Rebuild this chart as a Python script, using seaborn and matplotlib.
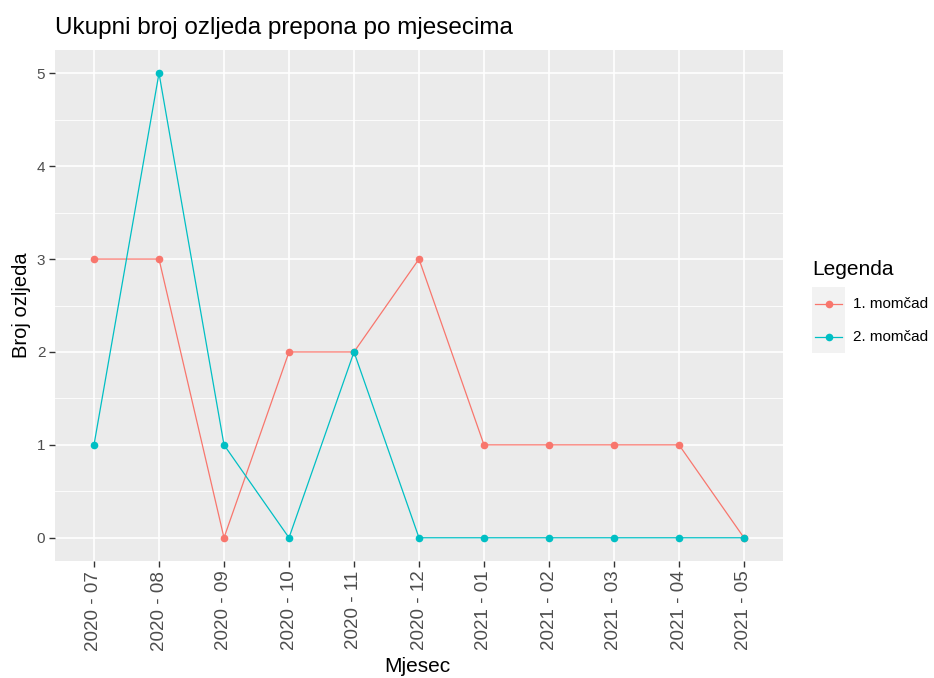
import pandas as pd
import matplotlib
matplotlib.use("Agg")
import matplotlib.pyplot as plt
from matplotlib.lines import Line2D
from matplotlib.patches import Rectangle
import seaborn as sns

# Data
months = ["2020 - 07", "2020 - 08", "2020 - 09", "2020 - 10", "2020 - 11", "2020 - 12",
          "2021 - 01", "2021 - 02", "2021 - 03", "2021 - 04", "2021 - 05"]
team1 = [3, 3, 0, 2, 2, 3, 1, 1, 1, 1, 0]
team2 = [1, 5, 1, 0, 2, 0, 0, 0, 0, 0, 0]
teams = ["1. momčad", "2. momčad"]
colors = ["#F8766D", "#00BFC4"]

df = pd.DataFrame({
    "Mjesec": months * 2,
    "Broj": team1 + team2,
    "Legenda": [teams[0]] * len(months) + [teams[1]] * len(months),
})
df["pos"] = list(range(len(months))) * 2

plt.rcParams["font.family"] = ["Liberation Sans", "DejaVu Sans"]

fig = plt.figure(figsize=(9.34, 6.78), dpi=100)
ax = fig.add_axes([55 / 934, 1 - 561 / 678, (783 - 55) / 934, (561 - 50) / 678])
ax.set_facecolor("#EBEBEB")

# grid
for y in [0.5, 1.5, 2.5, 3.5, 4.5]:
    ax.axhline(y, color="white", lw=0.6, zorder=0)
for y in range(6):
    ax.axhline(y, color="white", lw=1.2, zorder=0)
for x in range(len(months)):
    ax.axvline(x, color="white", lw=1.2, zorder=0)

sns.lineplot(data=df, x="pos", y="Broj", hue="Legenda", palette=colors,
             marker="o", markersize=5.5, markeredgewidth=0, linewidth=0.9,
             ax=ax, legend=False, zorder=3)

ax.set_xlim(-0.6, 10.6)
ax.set_ylim(-0.25, 5.25)
ax.set_xticks(range(len(months)))
ax.set_xticklabels(months, rotation=90)
ax.set_yticks(range(6))
ax.tick_params(axis="both", colors="#333333", labelcolor="#4D4D4D", labelsize=11,
               length=4, width=1, direction="out", pad=3)
ax.tick_params(axis="x", labelsize=13.5)
for s in ax.spines.values():
    s.set_visible(False)

ax.set_xlabel("")
ax.set_ylabel("Broj ozljeda", fontsize=14.5, color="black", labelpad=4)
fig.text(417 / 934, 1 - 667 / 678, "Mjesec", fontsize=15, color="black",
         va="center", ha="center")
fig.text(55 / 934, 1 - 28 / 678, "Ukupni broj ozljeda prepona po mjesecima",
         fontsize=17.5, color="black", va="center", ha="left")

# legend
fig.patches.append(Rectangle((812 / 934, 1 - 353 / 678), 33 / 934, 66 / 678,
                             transform=fig.transFigure, facecolor="#F2F2F2",
                             edgecolor="none", zorder=1))
fig.text(812 / 934, 1 - 270 / 678, "Legenda", fontsize=15, va="center", ha="left")
for i, (t, c) in enumerate(zip(teams, colors)):
    yy = 1 - (304 + 33 * i) / 678
    fig.add_artist(Line2D([815 / 934, 842 / 934], [yy, yy], color=c, lw=0.9,
                          transform=fig.transFigure, zorder=2))
    fig.add_artist(Line2D([828.5 / 934], [yy], color=c, marker="o", markersize=5.5,
                          markeredgewidth=0, transform=fig.transFigure, zorder=3))
    fig.text(853 / 934, yy, t, fontsize=11, va="center", ha="left")

fig.savefig("out.png", dpi=100, facecolor="white")
